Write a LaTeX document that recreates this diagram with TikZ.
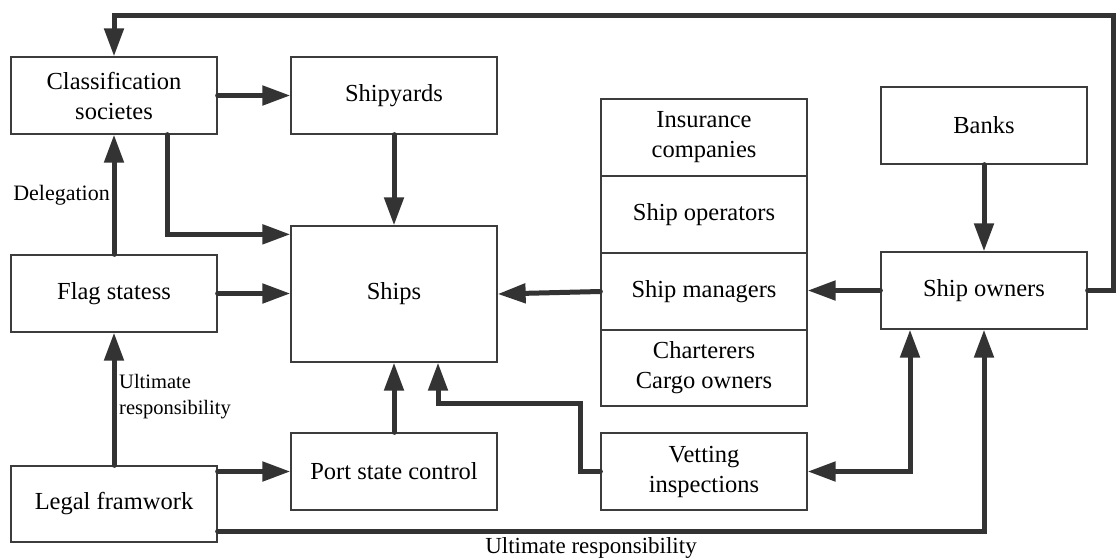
\documentclass[tikz,border=0pt]{standalone}
\usepackage{fontspec}
\setmainfont{Liberation Serif}
\usetikzlibrary{arrows.meta}
\definecolor{linegray}{HTML}{333333}
\definecolor{boxgray}{HTML}{3C3C3C}
\begin{document}
\begin{tikzpicture}[x=1pt,y=-1pt,
  box/.style={draw=boxgray, line width=1.3pt, fill=white, inner sep=0pt,
    minimum width=206pt, minimum height=77pt, align=center,
    font=\fontsize{24.5}{30}\selectfont},
  conn/.style={draw=linegray, line width=5pt, line cap=round,
    -{Triangle[length=28pt,width=19pt]}},
  twoway/.style={draw=linegray, line width=5pt,
    {Triangle[length=28pt,width=19pt]}-{Triangle[length=28pt,width=19pt]}},
  lbl/.style={inner sep=0pt, text=black}]
\useasboundingbox (0,0) rectangle (1116,558);

% left column
\node[box] (cls)   at (114,95.5)  {Classification\\societes};
\node[box] (flag)  at (114,293.5) {Flag statess};
\node[box, minimum height=76pt] (legal) at (114,504) {Legal framwork};

% middle column
\node[box] (yard)  at (394,95.5)  {Shipyards};
\node[box, minimum height=136pt] (ships) at (394,294) {Ships};
\node[box] (psc)   at (394,471.5) {Port state control};

% stacked stakeholders
\node[box] (ins) at (704,137.5) {Insurance\\companies};
\node[box] (ops) at (704,214.5) {Ship operators};
\node[box] (mgr) at (704,291.5) {Ship managers};
\node[box, minimum height=76pt] (chr) at (704,368) {Charterers\\Cargo owners};
\node[box] (vet) at (704,471.5) {Vetting\\inspections};

% right column
\node[box] (banks)  at (984,125.5) {Banks};
\node[box] (owners) at (984,290.5) {Ship owners};

% routing points
\coordinate (vbend) at (580,403);
\coordinate (tr) at (1113,15);

% connectors
\draw[conn] (cls.east) -- (yard.west);
\draw[conn] (yard.south) -- (ships.north);
\draw[conn] ([xshift=53pt]cls.south) |- ([yshift=-9pt]ships.north west);
\draw[conn] (flag.east) -- (flag.east -| ships.west);
\draw[conn] (flag.north) -- (cls.south);
\draw[conn] (legal.north) -- (flag.south);
\draw[conn] (legal.east |- psc.west) -- (psc.west);
\draw[conn] ([yshift=-27pt]legal.east) -| (owners.south);
\draw[conn] (psc.north) -- (ships.south);
\draw[conn] (vet.west) -| (vbend) -| ([xshift=44pt]ships.south);
\draw[conn] (mgr.west) -- (ships.east);
\draw[conn] (owners.west) -- (owners.west -| mgr.east);
\draw[conn] (banks.south) -- (owners.north);
\draw[twoway] (vet.east) -| ([xshift=-74pt]owners.south);
\draw[conn] (owners.east) -| (tr) -| (cls.north);

% labels
\node[lbl, anchor=base east, font=\fontsize{22}{26}\selectfont] (dlg) at (110,200) {Delegation};
\node[lbl, anchor=north west, align=left, font=\fontsize{20.5}{26}\selectfont] (ulr1) at (119,374) {Ultimate\\responsibility};
\node[lbl, anchor=base, font=\fontsize{23}{28}\selectfont] (ulr2) at (591,553) {Ultimate responsibility};
\end{tikzpicture}
\end{document}
